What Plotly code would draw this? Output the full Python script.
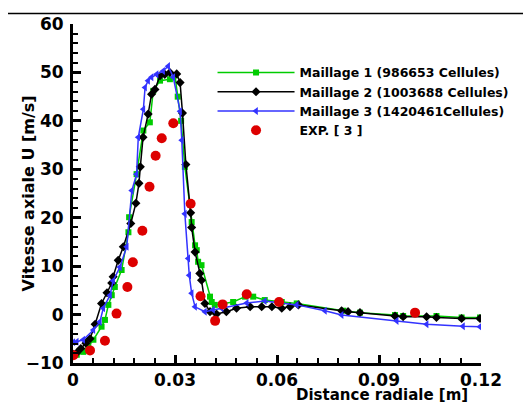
import plotly.graph_objects as go

# Maillage 1 (green squares)
x_m1 = [0.0011, 0.0030, 0.0045, 0.0060, 0.0084, 0.0094, 0.0104, 0.0114, 0.0123, 0.0143,
        0.0163, 0.0165, 0.0187, 0.0207, 0.0226, 0.0236, 0.0256, 0.0285, 0.0300, 0.0308,
        0.0318, 0.0329, 0.0349, 0.0359, 0.0364, 0.0368, 0.0378, 0.0403, 0.0408, 0.0417,
        0.0471, 0.0506, 0.0530, 0.0564, 0.0614, 0.0658, 0.0795, 0.0844, 0.0947, 0.0971,
        0.1069, 0.1143, 0.1197]
y_m1 = [-8.3, -7.7, -6.6, -5.2, -2.5, -1.1, 2.0, 4.0, 5.7, 9.2,
        17.0, 20.1, 29.0, 38.0, 39.7, 46.2, 48.3, 48.6, 49.4, 45.0,
        40.0, 30.5, 19.1, 14.3, 13.3, 10.9, 10.2, 3.7, 2.6, 2.0,
        2.6, 3.7, 3.7, 3.0, 2.6, 2.3, 0.8, 0.4, -0.1, -0.3,
        -0.3, -0.6, -0.6]

# Maillage 2 (black diamonds)
x_m2 = [0.0001, 0.0011, 0.0023, 0.0038, 0.0050, 0.0065, 0.0084, 0.0100, 0.0114, 0.0118,
        0.0133, 0.0148, 0.0170, 0.0185, 0.0194, 0.0198, 0.0206, 0.0221, 0.0231, 0.0241,
        0.0256, 0.0270, 0.0285, 0.0305, 0.0315, 0.0322, 0.0332, 0.0346, 0.0349, 0.0359,
        0.0373, 0.0378, 0.0388, 0.0403, 0.0422, 0.0451, 0.0481, 0.0521, 0.0555, 0.0585,
        0.0614, 0.0638, 0.0663, 0.0790, 0.0809, 0.0844, 0.0947, 0.0971, 0.1040, 0.1069,
        0.1143, 0.1197]
y_m2 = [-8.2, -7.9, -7.0, -5.9, -5.0, -2.0, 2.3, 4.5, 6.5, 7.8,
        11.2, 14.0, 18.8, 23.0, 27.1, 30.5, 36.6, 41.4, 45.5, 46.5,
        49.3, 49.6, 50.0, 49.7, 47.9, 41.6, 31.0, 21.0, 18.0, 12.9,
        8.5, 7.1, 2.3, 0.6, 0.1, 0.6, 1.3, 1.6, 1.6, 1.6,
        1.3, 1.6, 2.0, 0.8, 0.6, 0.4, -0.3, -0.45, -0.45, -0.6,
        -0.8, -0.8]

# Maillage 3 (blue left triangles)
x_m3 = [0.0001, 0.0011, 0.0030, 0.0060, 0.0079, 0.0089, 0.0109, 0.0118, 0.0138, 0.0158,
        0.0173, 0.0187, 0.0192, 0.0207, 0.0212, 0.0221, 0.0231, 0.0246, 0.0265, 0.0280,
        0.0295, 0.0315, 0.0320, 0.0329, 0.0339, 0.0342, 0.0349, 0.0359, 0.0388, 0.0412,
        0.0437, 0.0511, 0.0564, 0.0658, 0.0741, 0.0790, 0.0952, 0.1040, 0.1147, 0.1197]
y_m3 = [-5.7, -5.6, -5.2, -3.2, -1.5, 1.3, 4.0, 7.0, 9.8, 14.0,
        25.6, 29.0, 36.6, 42.4, 46.9, 48.3, 49.0, 49.6, 50.3, 51.3,
        49.0, 42.0, 36.0, 20.8, 11.6, 8.1, 4.4, 1.6, 0.6, 1.0,
        1.3, 2.4, 2.8, 2.0, 0.8, -0.1, -1.3, -2.0, -2.4, -2.5]

# EXP. [3] (red circles)
x_exp = [0.0001, 0.0050, 0.0094, 0.0128, 0.0160, 0.0176, 0.0204, 0.0225, 0.0243, 0.0261,
         0.0295, 0.0346, 0.0375, 0.0418, 0.0440, 0.0511, 0.0606, 0.1006]
y_exp = [-8.4, -7.4, -5.4, 0.2, 5.7, 10.8, 17.3, 26.4, 32.8, 36.4,
         39.5, 22.9, 3.8, -1.3, 2.1, 4.2, 2.6, 0.4]

font = "DejaVu Sans, sans-serif"

fig = go.Figure()
fig.add_trace(go.Scatter(x=x_m1, y=y_m1, mode="lines+markers", name="Maillage 1 (986653 Cellules)",
                         line=dict(color="#00cc00", width=1.5),
                         marker=dict(symbol="square", size=6, color="#00cc00")))
fig.add_trace(go.Scatter(x=x_m2, y=y_m2, mode="lines+markers", name="Maillage 2 (1003688 Cellules)",
                         line=dict(color="black", width=1.5),
                         marker=dict(symbol="diamond", size=7, color="black")))
fig.add_trace(go.Scatter(x=x_m3, y=y_m3, mode="lines+markers", name="Maillage 3 (1420461Cellules)",
                         line=dict(color="#3333ff", width=1.5),
                         marker=dict(symbol="triangle-left", size=7, color="#3333ff")))
fig.add_trace(go.Scatter(x=x_exp, y=y_exp, mode="markers", name="EXP. [ 3 ]",
                         marker=dict(symbol="circle", size=10, color="#dd0000")))

# page body has an 8px margin, so the figure is drawn 8px smaller and everything shifted
fig.update_layout(
    width=523, height=397,
    margin=dict(l=65, r=50, t=15.5, b=42),
    plot_bgcolor="white", paper_bgcolor="white",
    font=dict(family=font, color="black"),
    legend=dict(x=0.342, y=0.9, xanchor="left", yanchor="top",
                font=dict(size=12.5, weight="bold"), itemwidth=77,
                bgcolor="rgba(0,0,0,0)", tracegroupgap=0, borderwidth=0),
)
fig.update_xaxes(range=[0, 0.12], tickvals=[0, 0.03, 0.06, 0.09, 0.12],
                 ticktext=["0", "0.03", "0.06", "0.09", "0.12"],
                 ticks="inside", ticklen=8, tickwidth=3, tickcolor="black",
                 minor=dict(dtick=0.006, ticks="inside", ticklen=5, tickwidth=1.5, tickcolor="black"),
                 showline=True, linewidth=3, linecolor="black", showgrid=False, zeroline=False,
                 tickfont=dict(size=17, weight="bold"), ticklabelstandoff=0, automargin=False)
fig.update_yaxes(range=[-10, 60], dtick=10,
                 ticks="inside", ticklen=8, tickwidth=3, tickcolor="black",
                 minor=dict(dtick=2, ticks="inside", ticklen=5, tickwidth=1.5, tickcolor="black"),
                 showline=True, linewidth=3, linecolor="black", showgrid=False, zeroline=False,
                 tickfont=dict(size=17, weight="bold"), ticklabelstandoff=3, automargin=False)

fig.add_annotation(text="Distance radiale [m]", xref="paper", yref="paper",
                   x=0.757, y=-0.095, xanchor="center", yanchor="middle", showarrow=False,
                   font=dict(size=15, weight="bold", family=font))
fig.add_annotation(text="Vitesse axiale U [m/s]", xref="paper", yref="paper",
                   x=-0.108, y=0.5, xanchor="center", yanchor="middle", textangle=-90,
                   showarrow=False, font=dict(size=16, weight="bold", family=font))
fig.add_shape(type="line", xref="paper", yref="paper", x0=-0.179, x1=1.12, y0=1.031, y1=1.031,
              line=dict(color="black", width=1.5))

fig.write_html("out.html")
